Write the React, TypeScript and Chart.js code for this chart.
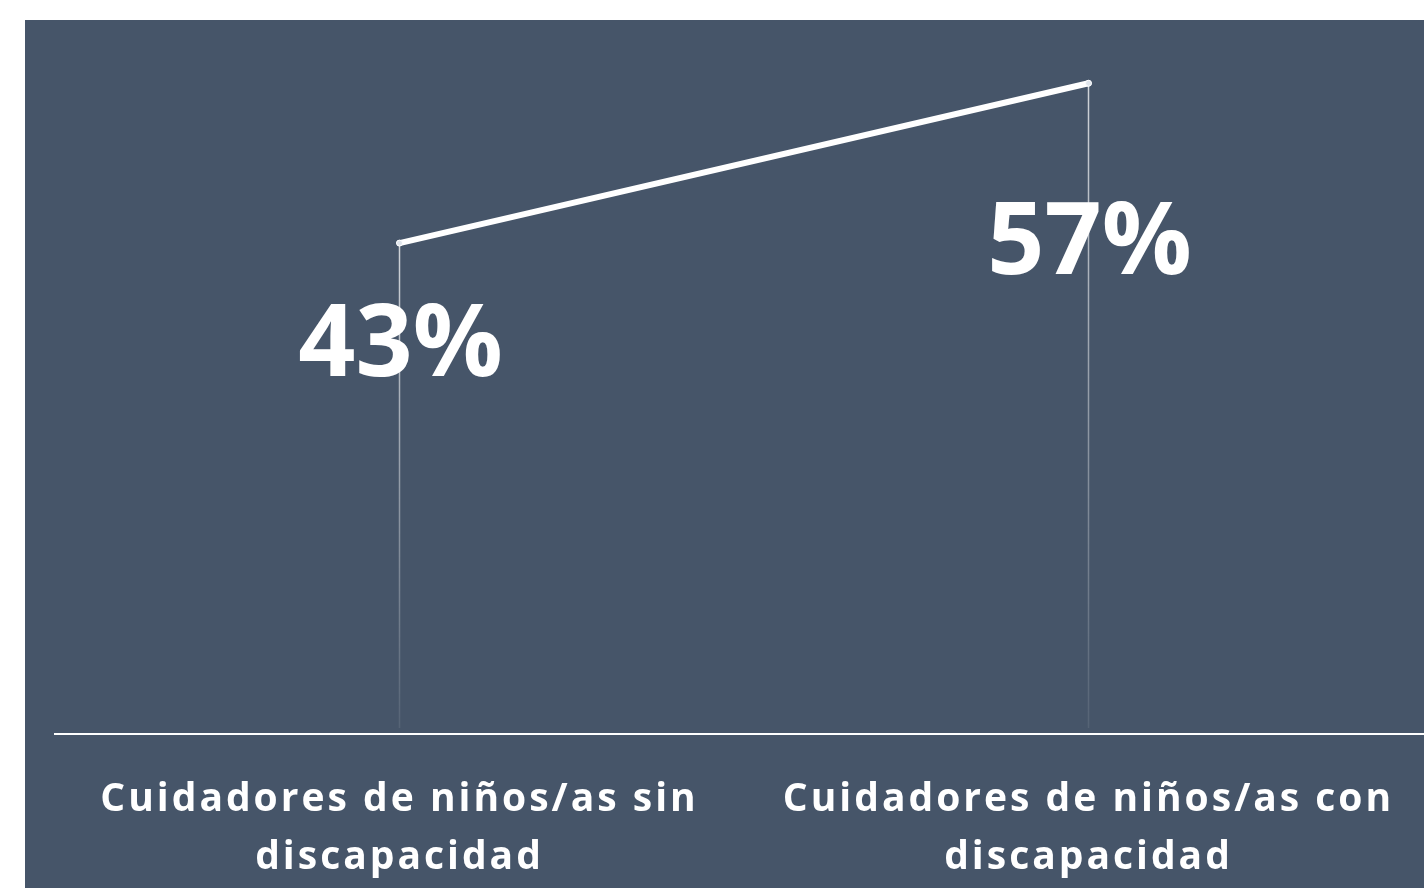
import React, { useEffect, useRef } from "react";
import { Chart, registerables } from "chart.js";

Chart.register(...registerables);

const categories: string[][] = [
  ["Cuidadores de niños/as sin", "discapacidad"],
  ["Cuidadores de niños/as con", "discapacidad"],
];
const values: number[] = [43, 57];
const valueLabels: string[] = ["43%", "57%"];
// baseline offset (px below the point) for each big value label
const labelOffsets: number[] = [133, 191];

const BG = "#465569";
const FONT = "'Open Sans', 'DejaVu Sans', sans-serif";

export default function App() {
  const ref = useRef<HTMLCanvasElement | null>(null);

  useEffect(() => {
    if (!ref.current) return;
    document.body.style.overflow = "hidden";

    const dropLines = {
      id: "dropLines",
      beforeDatasetsDraw(chart: any) {
        const ctx = chart.ctx;
        const meta = chart.getDatasetMeta(0);
        const bottom = chart.chartArea.bottom;
        ctx.save();
        meta.data.forEach((pt: any) => {
          const g = ctx.createLinearGradient(0, pt.y, 0, bottom);
          g.addColorStop(0, "rgba(255,255,255,0.75)");
          g.addColorStop(1, "rgba(255,255,255,0.08)");
          ctx.strokeStyle = g;
          ctx.lineWidth = 1.5;
          ctx.beginPath();
          ctx.moveTo(pt.x, pt.y);
          ctx.lineTo(pt.x, bottom - 6);
          ctx.stroke();
        });
        ctx.restore();
      },
    };

    const spacing = {
      id: "spacing",
      beforeDraw(chart: any) {
        (chart.ctx as any).letterSpacing = "3px";
      },
    };

    const valueLabelsPlugin = {
      id: "valueLabels",
      afterDatasetsDraw(chart: any) {
        const ctx = chart.ctx;
        const meta = chart.getDatasetMeta(0);
        ctx.save();
        (ctx as any).letterSpacing = "0px";
        ctx.fillStyle = "#ffffff";
        ctx.font = `bold 100px ${FONT}`;
        ctx.textAlign = "center";
        ctx.textBaseline = "alphabetic";
        meta.data.forEach((pt: any, i: number) => {
          ctx.fillText(valueLabels[i], pt.x + 1, pt.y + labelOffsets[i]);
        });
        ctx.restore();
      },
    };

    const chart = new Chart(ref.current, {
      type: "line",
      data: {
        labels: categories,
        datasets: [
          {
            data: values,
            borderColor: "#ffffff",
            borderWidth: 6,
            borderCapStyle: "round",
            pointRadius: 3,
            pointBackgroundColor: "#dfe5ec",
            pointBorderColor: "#ffffff",
            pointBorderWidth: 1,
            tension: 0,
            clip: false as any,
          },
        ],
      },
      options: {
        responsive: false,
        animation: false,
        layout: { padding: { left: 30, right: 12, top: 29, bottom: 0 } },
        plugins: {
          legend: { display: false },
          tooltip: { enabled: false },
        },
        scales: {
          x: {
            type: "category",
            offset: true,
            grid: { display: false, drawTicks: false },
            border: { display: true, color: "#ffffff", width: 2 },
            ticks: {
              color: "#ffffff",
              font: { family: FONT, weight: "bold", size: 39, lineHeight: 1.49 },
              padding: 37,
              maxRotation: 0,
              autoSkip: false,
            },
            afterFit(scale: any) {
              scale.height = 154;
            },
          },
          y: {
            display: false,
            min: 0,
            max: 60,
          },
        },
      },
      plugins: [spacing, dropLines, valueLabelsPlugin],
    });

    return () => chart.destroy();
  }, []);

  return (
    <div style={{ position: "fixed", inset: 0, overflow: "hidden", background: "#ffffff" }}>
      <div
        style={{
          position: "absolute",
          left: 25,
          top: 20,
          width: 1420,
          height: 868,
          background: BG,
        }}
      >
        <canvas ref={ref} width={1420} height={868} style={{ display: "block" }} />
      </div>
    </div>
  );
}
